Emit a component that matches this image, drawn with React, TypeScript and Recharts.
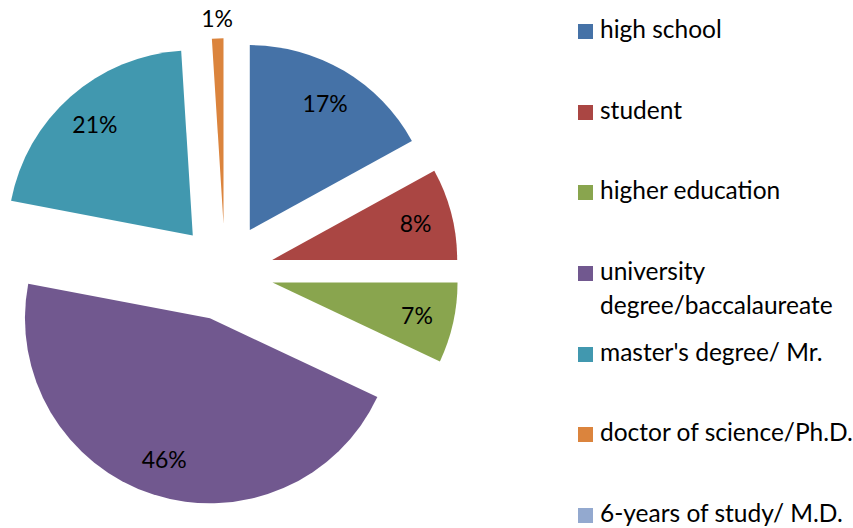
import { Legend, Pie, PieChart, Cell } from 'recharts';

const categories = [
  'high school',
  'student',
  'higher education',
  'university degree/baccalaureate',
  "master's degree/ Mr.",
  'doctor of science/Ph.D.',
  '6-years of study/ M.D.',
];
const shares = [17, 8, 7, 46, 21, 1, 0];
const colors = ['#4572A7', '#AA4643', '#89A54E', '#71588F', '#4198AF', '#DB843D', '#93A9CF'];

const FONT = 'Lato, "Open Sans", sans-serif';
const CX = 225;
const CY = 272;
const R = 185;
const EXPLODE = 48.7;

const data = categories.map((name, i) => ({ name, value: shares[i] }));
const total = shares.reduce((a, b) => a + b, 0);

// mid angle of every slice in recharts degrees (90 = top, clockwise)
function midAngles(): number[] {
  let cum = 0;
  return shares.map((v) => {
    const m = 90 - (360 * (cum + v / 2)) / total;
    cum += v;
    return m;
  });
}

const RAD = Math.PI / 180;

function SliceLabel(own: number) {
  return (props: any) => {
    const { cx, cy, midAngle, outerRadius, index, percent } = props;
    if (index !== own || !percent) return null;
    const small = percent < 0.03;
    const r = small ? outerRadius + 20 : outerRadius * 0.8;
    const x = cx + r * Math.cos(-midAngle * RAD);
    const y = cy + r * Math.sin(-midAngle * RAD);
    return (
      <text x={x} y={y} textAnchor="middle" dominantBaseline="central" fill="#000" fontSize={23} fontFamily={FONT}>
        {`${Math.round(percent * 100)}%`}
      </text>
    );
  };
}

function LegendBox() {
  return (
    <div style={{ fontFamily: FONT, fontSize: 24.5, color: '#000' }}>
      {categories.map((c, i) => (
        <div key={c} style={{ height: 80.7, display: 'flex', alignItems: 'flex-start' }}>
          <div style={{ width: 15, height: 15, background: colors[i], marginTop: 4, marginRight: 7, flexShrink: 0 }} />
          <div style={{ lineHeight: '34px', marginTop: -8, width: 260 }}>{c}</div>
        </div>
      ))}
    </div>
  );
}

export default function App() {
  const mids = midAngles();
  return (
    <div style={{ position: 'absolute', left: 0, top: 0, width: 853, height: 528, background: '#fff' }}>
      <PieChart width={853} height={528} margin={{ top: 0, right: 0, bottom: 0, left: 0 }}>
        {shares.map((v, i) =>
          v > 0 ? (
            <Pie
              key={categories[i]}
              data={data}
              dataKey="value"
              nameKey="name"
              cx={CX + EXPLODE * Math.cos(mids[i] * RAD)}
              cy={CY - EXPLODE * Math.sin(mids[i] * RAD)}
              outerRadius={R}
              startAngle={90}
              endAngle={-270}
              stroke="none"
              label={SliceLabel(i)}
              labelLine={false}
              isAnimationActive={false}
            >
              {data.map((d, j) => (
                <Cell key={d.name} fill={j === i ? colors[j] : 'transparent'} />
              ))}
            </Pie>
          ) : null
        )}
        <Legend
          layout="vertical"
          verticalAlign="top"
          align="right"
          content={() => <LegendBox />}
          wrapperStyle={{ left: 578, top: 20, width: 275 }}
        />
      </PieChart>
    </div>
  );
}
